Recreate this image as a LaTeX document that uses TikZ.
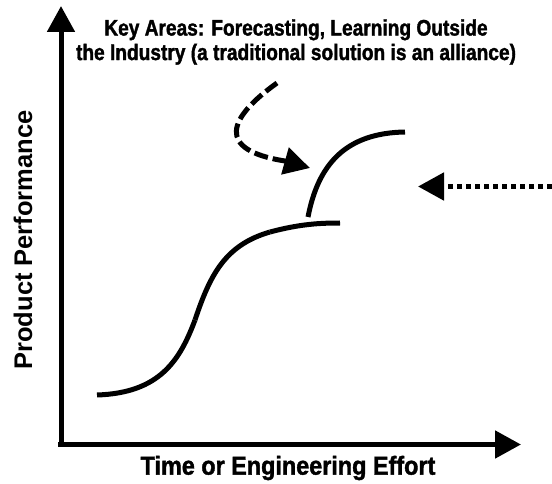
\documentclass[tikz,border=0pt]{standalone}
\usepackage{fontspec}
\setmainfont{Liberation Sans}
\newfontfamily\keyfont[FakeStretch=0.85, BoldFeatures={FakeBold=1.5}]{Liberation Sans}
\newfontfamily\axisfont[FakeStretch=0.9, BoldFeatures={FakeBold=1.5}]{Liberation Sans}
\usetikzlibrary{arrows.meta}

\begin{document}
\begin{tikzpicture}[x=1pt, y=-1pt, line width=5pt,
  bigtip/.style={-{Triangle[length=26pt,width=27pt]}},
  lbl/.style={font=\fontsize{22.5}{24.5}\keyfont\bfseries, align=center}]
\useasboundingbox (0,0) rectangle (552,484);

% axes
\draw[bigtip] (61,447) -- (61,6);
\draw[bigtip] (58,444.5) -- (521,444.5);

\node[font=\fontsize{25.5}{30}\selectfont\bfseries] (ylab) at (23,240) [rotate=90] {Product Performance};
\node[font=\fontsize{26}{30}\axisfont\bfseries] (xlab) at (288,468) {Time or Engineering Effort};
\node[lbl] (keys) at (296,42) {Key Areas: Forecasting, Learning Outside\\the Industry (a traditional solution is an alliance)};

% first s-curve
\draw (97,395) .. controls (160,393) and (180,360) .. (195,320);
\draw (195,320) .. controls (210,275) and (225,245) .. (270,232);
\draw (270,232) .. controls (300,224) and (320,223) .. (340,223);

% second curve
\draw (308,217) .. controls (318,165) and (345,133) .. (405,132);

% dashed arrow
\draw[bigtip, dash pattern=on 14pt off 5pt] (277,83) .. controls (228,118) and (215,150) .. (285,161) -- (310,168);

% dotted arrow
\draw[bigtip, dash pattern=on 5pt off 4pt] (552,186.5) -- (418,186.5);

\end{tikzpicture}
\end{document}
